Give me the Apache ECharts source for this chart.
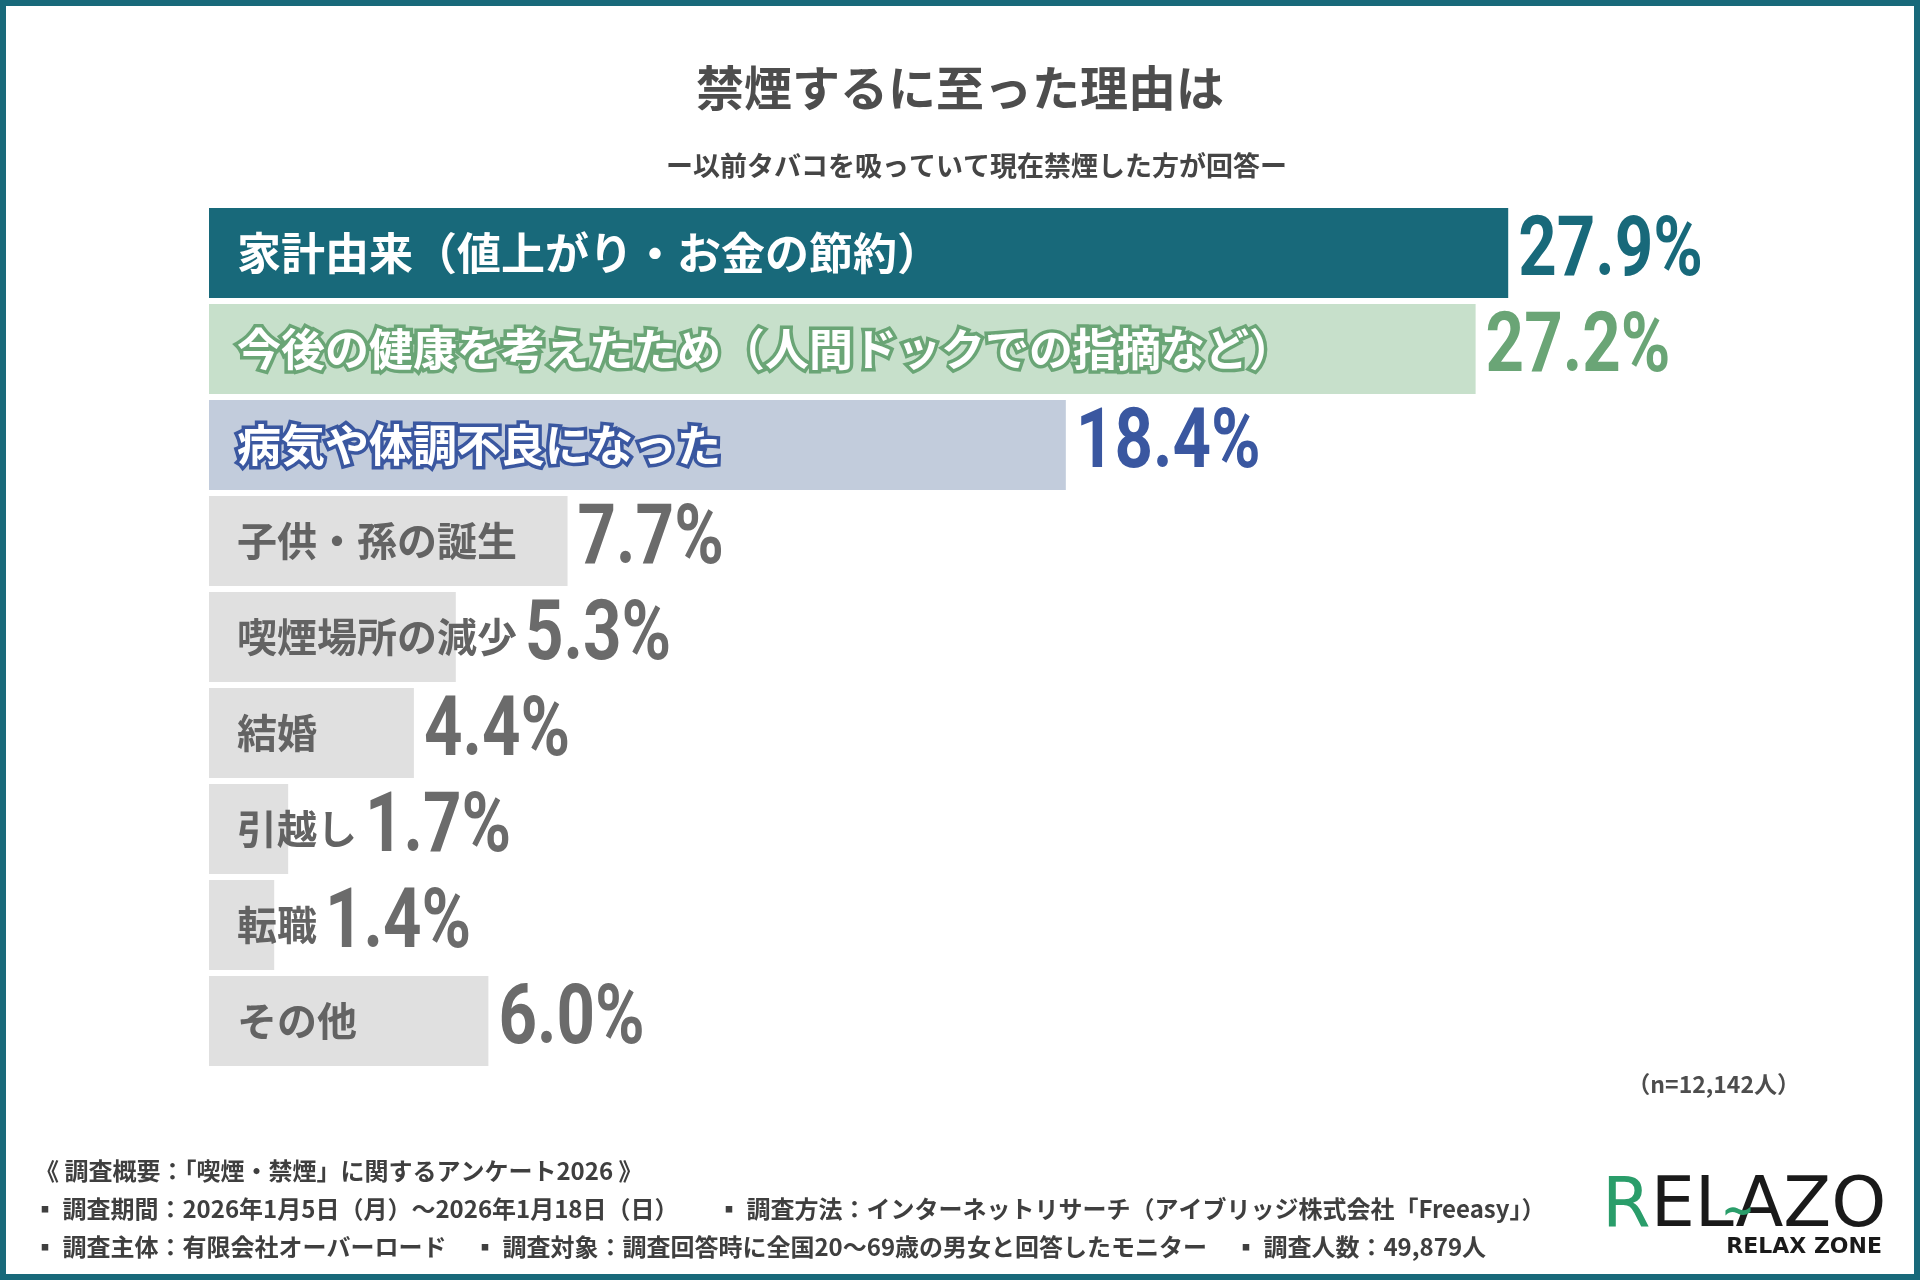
<!DOCTYPE html>
<html>
<head>
<meta charset="utf-8">
<script src="https://cdn.jsdelivr.net/npm/echarts@6/dist/echarts.min.js"></script>
<style>
	html, body { margin: 0; padding: 0; background: #fff; }
	#chart { width: 1920px; height: 1280px; }
</style>
</head>
<body>
<div id="chart"></div>
<script>
// data
const categories = ['家計由来（値上がり・お金の節約）', '今後の健康を考えたため（人間ドックでの指摘など）', '病気や体調不良になった', '子供・孫の誕生', '喫煙場所の減少', '結婚', '引越し', '転職', 'その他']
const values = [27.9, 27.2, 18.4, 7.7, 5.3, 4.4, 1.7, 1.4, 6.0]
const sampleNote = '（n=12,142人）'

// styles per row
const barColors = ['#18697a', '#c7e0cb', '#c2ccdc', '#e0e0e0', '#e0e0e0', '#e0e0e0', '#e0e0e0', '#e0e0e0', '#e0e0e0']
const valueColors = ['#18697a', '#6aa576', '#3a57a0', '#6b6b6b', '#6b6b6b', '#6b6b6b', '#6b6b6b', '#6b6b6b', '#6b6b6b']
const JP = '"Noto Sans CJK JP", "Noto Sans", sans-serif'
const NUM = 'Roboto, "Noto Sans", sans-serif'

const GRID_LEFT = 209
const GRID_RIGHT = 314
const X_MAX = 30
const LABEL_PAD = 28
const NUM_SQUEEZE = 0.8

const nameLabelStyle = (i) => {
	if (i === 0) return { color: '#fff', fontSize: 44 }
	if (i === 1) return { color: '#fff', fontSize: 44, textBorderColor: '#6aa576', textBorderWidth: 7 }
	if (i === 2) return { color: '#fff', fontSize: 44, textBorderColor: '#3a57a0', textBorderWidth: 7 }
	return { color: '#636363', fontSize: 40 }
}

// measure the name labels so the value sits after the longer of bar / text
const ctx = document.createElement('canvas').getContext('2d')
const textWidth = (txt, size) => {
	ctx.font = `bold ${size}px ${JP}`
	return ctx.measureText(txt).width
}
const nameEnds = categories.map((c, i) => GRID_LEFT + LABEL_PAD + textWidth(c, nameLabelStyle(i).fontSize))

const myChart = echarts.init(document.getElementById('chart'))

const footer = [
	{ text: '《 調査概要：「喫煙・禁煙」に関するアンケート2026 》', x: 35, y: 1171 },
	{ text: '▪ 調査期間：2026年1月5日（月）～2026年1月18日（日）', x: 33, y: 1209 },
	{ text: '▪ 調査方法：インターネットリサーチ（アイブリッジ株式会社「Freeasy」）', x: 717, y: 1209 },
	{ text: '▪ 調査主体：有限会社オーバーロード', x: 33, y: 1247 },
	{ text: '▪ 調査対象：調査回答時に全国20～69歳の男女と回答したモニター', x: 473, y: 1247 },
	{ text: '▪ 調査人数：49,879人', x: 1234, y: 1247 },
]

let option = {
	backgroundColor: '#fff',
	animation: false,
	title: [
		{
			text: '禁煙するに至った理由は',
			left: 'center',
			top: 55,
			textStyle: { fontFamily: JP, fontSize: 48, fontWeight: 'bold', color: '#4d4d4d', lineHeight: 56 },
		},
		{
			text: 'ー以前タバコを吸っていて現在禁煙した方が回答ー',
			left: 661,
			top: 146,
			textStyle: { fontFamily: JP, fontSize: 27, fontWeight: 'bold', color: '#454545', lineHeight: 30 },
		},
	],
	grid: { left: GRID_LEFT, right: GRID_RIGHT, top: 205, bottom: 1280 - 1069 },
	xAxis: { type: 'value', min: 0, max: X_MAX, show: false },
	yAxis: { type: 'category', data: categories, inverse: true, show: false },
	series: [
		{
			type: 'bar',
			barCategoryGap: '6.25%',
			z: 2,
			data: values.map((v, i) => ({
				value: v,
				itemStyle: { color: barColors[i] },
				label: Object.assign({
					show: true,
					position: 'insideLeft',
					distance: LABEL_PAD,
					fontFamily: JP,
					fontWeight: 'bold',
					formatter: '{b}',
				}, nameLabelStyle(i)),
			})),
		},
		{
			// value labels, condensed
			type: 'custom',
			z: 3,
			silent: true,
			data: values.map((v, i) => [v, i]),
			encode: { x: 0, y: 1 },
			renderItem: (params, api) => {
				const i = params.dataIndex
				const p = api.coord([api.value(0), api.value(1)])
				const x = Math.max(p[0] + 10, nameEnds[i] + 8)
				return {
					type: 'text',
					x: x,
					y: p[1] + 1,
					scaleX: NUM_SQUEEZE,
					style: {
						x: 0,
						y: 0,
						text: values[i].toFixed(1) + '%',
						fill: valueColors[i],
						font: `bold 84px ${NUM}`,
						textAlign: 'left',
						textVerticalAlign: 'middle',
					},
				}
			},
		},
	],
	graphic: [
		{
			type: 'rect',
			silent: true,
			shape: { x: 3, y: 3, width: 1914, height: 1274 },
			style: { fill: 'none', stroke: '#18697a', lineWidth: 6 },
		},
		{
			type: 'text',
			x: 1800,
			y: 1084,
			style: { text: sampleNote, textAlign: 'right', textVerticalAlign: 'middle', font: `bold 23px ${JP}`, fill: '#4d4d4d' },
		},
		...footer.map((f) => ({
			type: 'text',
			x: f.x,
			y: f.y,
			style: { text: f.text, textVerticalAlign: 'middle', font: `bold 24px ${JP}`, fill: '#3f3f3f' },
		})),
		// logo
		{
			type: 'text',
			x: 1602,
			y: 1208,
			style: {
				text: '{g|R}{k|ELAZO}',
				textVerticalAlign: 'middle',
				rich: {
					g: { fontFamily: '"DejaVu Sans", sans-serif', fontSize: 70, fill: '#2a9d6a' },
					k: { fontFamily: '"DejaVu Sans", sans-serif', fontSize: 70, fill: '#1a1a1a' },
				},
			},
		},
		{
			type: 'text',
			x: 1738,
			y: 1214,
			style: { text: '~', textAlign: 'center', textVerticalAlign: 'middle', font: 'bold 40px "DejaVu Sans", sans-serif', fill: '#2a9d6a' },
		},
		{
			type: 'text',
			x: 1882,
			y: 1247,
			style: { text: 'RELAX ZONE', textAlign: 'right', textVerticalAlign: 'middle', font: 'bold 22px "DejaVu Sans", sans-serif', fill: '#1a1a1a' },
		},
	],
}
myChart.setOption(option)

window.addEventListener('resize', () => {
	myChart.resize()
})
</script>
</body>
</html>
